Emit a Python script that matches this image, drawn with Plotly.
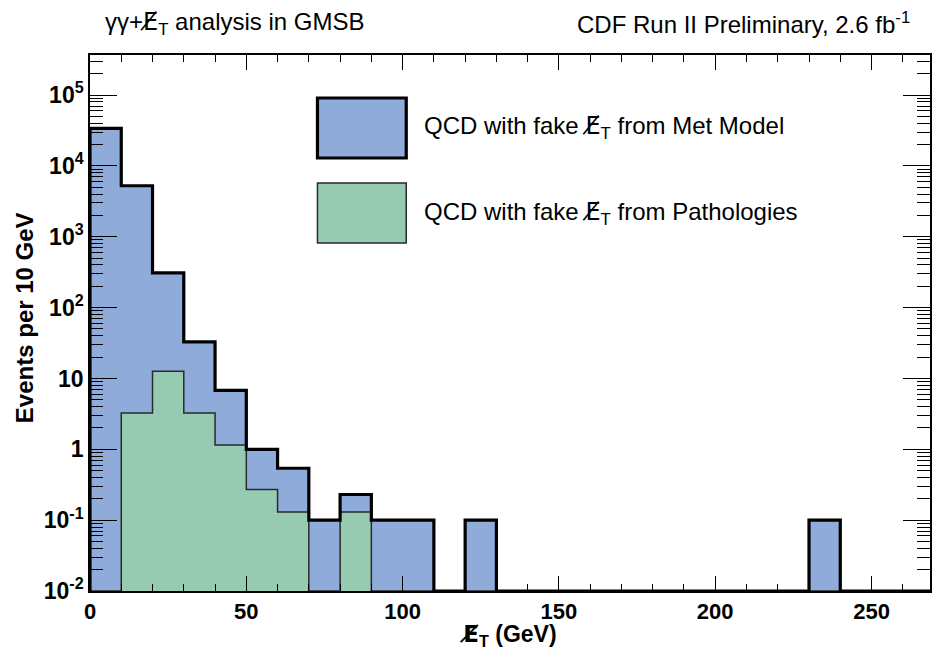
import plotly.graph_objects as go

# ---------------- data ----------------
bin_width = 10
bin_edges = list(range(0, 280, 10))          # 0 ... 270 GeV
met_model = [33900, 5240, 309, 32.8, 6.8, 1.0, 0.54, 0.10, 0.23, 0.10,
             0.10, 0, 0.10, 0, 0, 0, 0, 0, 0, 0,
             0, 0, 0, 0.10, 0, 0, 0]
pathologies = [0, 3.26, 12.6, 3.26, 1.15, 0.27, 0.13, 0, 0.13, 0,
               0, 0, 0, 0, 0, 0, 0, 0, 0, 0,
               0, 0, 0, 0, 0, 0, 0]
x_tick_vals = [0, 50, 100, 150, 200, 250]
y_tick_vals = [1e-2, 1e-1, 1, 10, 1e2, 1e3, 1e4, 1e5]
y_tick_text = ["10<sup>-2</sup>", "10<sup>-1</sup>", "1", "10",
               "10<sup>2</sup>", "10<sup>3</sup>", "10<sup>4</sup>", "10<sup>5</sup>"]
MET = "<span style=\"font-family:'DejaVu Sans'\">E\u0338</span><sub>T</sub>"
series_names = ["QCD with fake " + MET + " from Met Model",
                "QCD with fake " + MET + " from Pathologies"]

# ---------------- style ----------------
BLUE = "#8eabda"
GREEN = "#97cbb1"
FONT = "Liberation Sans, Arial, Helvetica, sans-serif"
Y_EXP_MIN, Y_EXP_MAX = -2, 5.565
X_MIN, X_MAX = 0, 268.7
floor = 10 ** Y_EXP_MIN

W, H = 932, 652
ML, MR, MT, MB = 90, 0, 55, 61
PW, PH = W - ML - MR, H - MT - MB


def px(xp):
    return (xp - ML) / PW


def py(yp):
    return (H - MB - yp) / PH


centers = [e + bin_width / 2 for e in bin_edges[:-1]]


def step(vals):
    xs = [bin_edges[0]] + bin_edges
    ys = [floor] + [v if v > 0 else floor for v in vals]
    ys = ys + [ys[-1]]
    return xs, ys


fig = go.Figure()
fig.add_trace(go.Bar(x=centers, y=[v if v > 0 else None for v in met_model],
                     width=bin_width, marker=dict(color=BLUE, line=dict(width=0)),
                     name="Met Model", showlegend=False))
fig.add_trace(go.Bar(x=centers, y=[v if v > 0 else None for v in pathologies],
                     width=bin_width, marker=dict(color=GREEN, line=dict(width=0)),
                     name="Pathologies", showlegend=False))
gx, gy = step(pathologies)
fig.add_trace(go.Scatter(x=gx, y=gy, mode="lines", line=dict(shape="hv", color="#2a2a2a", width=1.5),
                         showlegend=False, hoverinfo="skip"))
bx, by = step(met_model)
fig.add_trace(go.Scatter(x=bx, y=by, mode="lines", line=dict(shape="hv", color="black", width=3.2),
                         showlegend=False, hoverinfo="skip"))

minor_y = [m * 10 ** e for e in range(-2, 6) for m in range(2, 10)]

fig.update_layout(
    width=W, height=H,
    margin=dict(l=ML, r=MR, t=MT, b=MB, pad=0),
    paper_bgcolor="white", plot_bgcolor="white",
    barmode="overlay", bargap=0,
    font=dict(family=FONT, color="black", size=24),
    xaxis=dict(range=[X_MIN, X_MAX], tickvals=x_tick_vals, ticks="inside", ticklen=15,
               tickwidth=1.2, tickcolor="black", showline=True, linecolor="black", linewidth=1.5,
               mirror="allticks", showgrid=False, zeroline=False,
               tickfont=dict(family=FONT, size=22, weight="bold"),
               minor=dict(ticks="inside", ticklen=7, dtick=10, tickwidth=1.2, tickcolor="black", showgrid=False)),
    yaxis=dict(type="log", range=[Y_EXP_MIN, Y_EXP_MAX], tickvals=y_tick_vals, ticktext=y_tick_text,
               ticks="inside", ticklen=27, tickwidth=1.2, tickcolor="black",
               showline=True, linecolor="black", linewidth=1.5, mirror="allticks",
               showgrid=False, zeroline=False,
               tickfont=dict(family=FONT, size=23, weight="bold"),
               minor=dict(ticks="inside", ticklen=13, tickvals=minor_y, tickwidth=1.2,
                          tickcolor="black", showgrid=False)),
)

# legend drawn as boxes + labels
fig.add_shape(type="rect", xref="paper", yref="paper", x0=px(318), x1=px(407), y0=py(158), y1=py(98),
              fillcolor=BLUE, line=dict(color="black", width=3.2), layer="above")
fig.add_shape(type="rect", xref="paper", yref="paper", x0=px(318), x1=px(407), y0=py(243), y1=py(183),
              fillcolor=GREEN, line=dict(color="#2a2a2a", width=1.5), layer="above")
fig.add_annotation(xref="paper", yref="paper", x=px(423), y=py(128), text=series_names[0],
                   showarrow=False, xanchor="left", yanchor="middle", font=dict(size=24))
fig.add_annotation(xref="paper", yref="paper", x=px(423), y=py(213), text=series_names[1],
                   showarrow=False, xanchor="left", yanchor="middle", font=dict(size=24))

# titles
fig.add_annotation(xref="paper", yref="paper", x=px(103), y=py(23),
                   text="\u03b3\u03b3+" + MET + " analysis in GMSB",
                   showarrow=False, xanchor="left", yanchor="middle", font=dict(size=24))
fig.add_annotation(xref="paper", yref="paper", x=px(914), y=py(23),
                   text="CDF Run II Preliminary, 2.6 fb<sup>-1</sup>",
                   showarrow=False, xanchor="right", yanchor="middle", font=dict(size=24))
fig.add_annotation(xref="paper", yref="paper", x=px(560), y=py(635),
                   text="<b>" + MET + " (GeV)</b>",
                   showarrow=False, xanchor="right", yanchor="middle", font=dict(size=23))
fig.add_annotation(xref="paper", yref="paper", x=px(25), y=py(318),
                   text="<b>Events per 10 GeV</b>", textangle=-90,
                   showarrow=False, xanchor="center", yanchor="middle", font=dict(size=24))

fig.write_html("out.html")
